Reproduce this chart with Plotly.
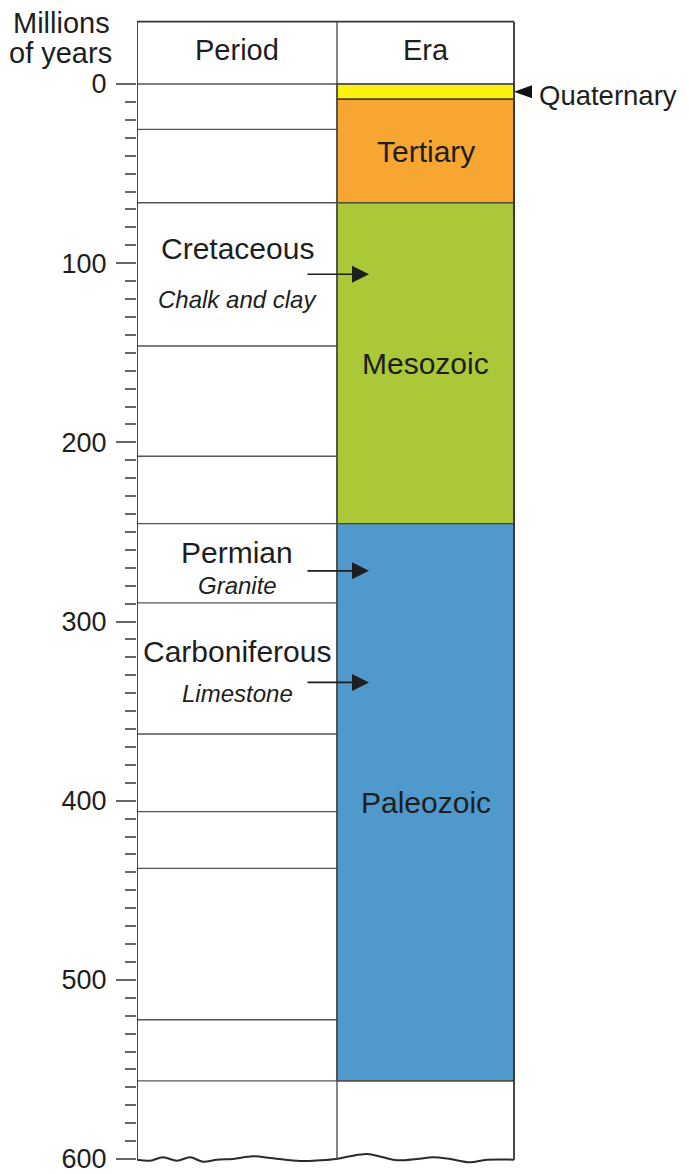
import plotly.graph_objects as go

# ---------------- data ----------------
tick_values = [0, 100, 200, 300, 400, 500, 600]
tick_labels = ["0", "100", "200", "300", "400", "500", "600"]
minor_ticks = [v for v in range(10, 600, 10) if v % 100 != 0]

# period boundary lines (millions of years)
period_bounds = [25.3, 66.3, 146.2, 207.8, 245.4, 289.6, 362.8, 406.1, 437.8, 522.3, 556.4]

era_names = ["", "Tertiary", "Mesozoic", "Paleozoic"]
era_start = [0, 8.5, 66.3, 245.4]
era_end = [8.5, 66.3, 245.4, 556.4]
era_colors = ["#FFF10F", "#F7A632", "#AAC837", "#5099CC"]

rock_periods = ["Cretaceous", "Permian", "Carboniferous"]
rock_types = ["Chalk and clay", "Granite", "Limestone"]
rock_ages = [106.2, 271.7, 334.0]

# ---------------- layout constants ----------------
BODY = 8                   # default page body margin
PX = 1075 / 600.0          # pixels per million years
Y0 = 84                    # page pixel row of 0 Ma
def py(p):                 # page pixel row -> axis value
    return (p - Y0) / PX

FONT = "Liberation Sans, Arial, Helvetica, sans-serif"
TXT = "#1e1e1e"
LEFT = 137                 # page pixel column of left border
COL_L, COL_M, COL_R = 0, 200, 377
ERA_C = (COL_M + COL_R) / 2
PER_C = (COL_L + COL_M) / 2
TOP = py(21.7)
FIG_W, FIG_H = 689 - BODY, 1174 - BODY
PLOT_W = FIG_W - (LEFT - BODY)

def px(p):                 # page pixel column -> x axis value
    return p - LEFT

name_rows = [248.8, 552.5, 651.7]
type_rows = [299.5, 585.0, 693.8]

# decorative wavy bottom edge (x in axis px, offset in px)
wave_x = [0, 13, 26, 40, 53, 66, 80, 96, 116, 136, 163, 183, 199, 213, 230, 246, 260, 280, 296, 313, 333, 350, 377]
wave_d = [0.7, 1.7, -1.7, 1.7, -1.7, 2.7, 0.7, 0, -2.7, -0.7, 2, 1.3, 0, -2.7, -5, -1.7, 1.3, 0, -1.7, 0, 3.3, 0.7, 0.7]

fig = go.Figure()

# era blocks
fig.add_trace(go.Bar(
    x=[ERA_C] * len(era_start),
    base=era_start,
    y=[e - s for s, e in zip(era_start, era_end)],
    width=COL_R - COL_M,
    marker=dict(color=era_colors, line=dict(color="#404040", width=1.3)),
    hoverinfo="skip", showlegend=False,
))

# wavy bottom edge
fig.add_trace(go.Scatter(
    x=wave_x, y=[600 + d / PX for d in wave_d], mode="lines",
    line=dict(color="#2a2a2a", width=2, shape="spline"),
    hoverinfo="skip", showlegend=False, cliponaxis=False,
))

shapes = []
# Quaternary pointer (decorative triangle)
tip_x, base_x = px(514), px(532)
ty, th = py(91.7), 6.5 / PX
shapes.append(dict(type="path", xref="x", yref="y",
                   path=f"M {tip_x},{ty} L {base_x},{ty - th} L {base_x},{ty + th} Z",
                   fillcolor="#111111", line=dict(width=0), layer="above"))
# period boundary lines
for b in period_bounds:
    x1 = COL_R if b == period_bounds[-1] else COL_M
    shapes.append(dict(type="line", xref="x", yref="y", x0=COL_L, x1=x1, y0=b, y1=b,
                       line=dict(color="#555555", width=1.4), layer="above"))
# zero / header bottom line
shapes.append(dict(type="line", xref="x", yref="y", x0=COL_L, x1=COL_R, y0=0, y1=0,
                   line=dict(color="#555555", width=1.4), layer="above"))
# header top
shapes.append(dict(type="line", xref="x", yref="y", x0=COL_L, x1=COL_R, y0=TOP, y1=TOP,
                   line=dict(color="#333333", width=1.8), layer="above"))
# vertical lines
for xv, w, c in [(COL_L, 1.8, "#333333"), (COL_M, 1.3, "#444444"), (COL_R, 1.8, "#333333")]:
    shapes.append(dict(type="line", xref="x", yref="y", x0=xv, x1=xv, y0=TOP, y1=600.4,
                       line=dict(color=c, width=w), layer="above"))

ann = []
def text(x, y, s, size=29, italic=False, xanchor="center", xref="x"):
    ann.append(dict(x=x, y=y, xref=xref, yref="y", text=s, showarrow=False,
                    xanchor=xanchor, yanchor="middle",
                    font=dict(family=FONT, size=size, color=TXT,
                              style="italic" if italic else "normal")))

text(px(61) / PLOT_W, py(22.5), "Millions", size=29, xref="paper")
text(px(60) / PLOT_W, py(53), "of years", size=29, xref="paper")
text(PER_C, py(50), "Period", size=29)
text(ERA_C, py(50), "Era", size=29)
text(px(537), py(95), "Quaternary", size=27.5, xanchor="left")

for n, s, e in zip(era_names, era_start, era_end):
    if n:
        text(ERA_C, (s + e) / 2, n, size=30)

for name, rtype, age, nr, tr in zip(rock_periods, rock_types, rock_ages, name_rows, type_rows):
    text(PER_C, py(nr), name, size=30)
    text(PER_C, py(tr), rtype, size=24, italic=True)
    ann.append(dict(x=px(369), y=age, ax=px(306), ay=age, xref="x", yref="y", axref="x", ayref="y",
                    text="", showarrow=True, arrowhead=2, arrowsize=2.0,
                    arrowwidth=1.7, arrowcolor="#1e1e1e"))

fig.update_layout(
    width=FIG_W, height=FIG_H,
    margin=dict(l=LEFT - BODY, r=0, t=0, b=0, pad=0, autoexpand=False),
    paper_bgcolor="white", plot_bgcolor="white",
    shapes=shapes, annotations=ann,
    xaxis=dict(range=[0, PLOT_W], visible=False, fixedrange=True),
    yaxis=dict(
        range=[py(1174), py(BODY)],
        showgrid=False, zeroline=False, showline=False,
        tickmode="array", tickvals=tick_values, ticktext=tick_labels,
        ticks="outside", ticklen=20, tickwidth=1.8, tickcolor="#666666",
        ticklabelstandoff=4, ticklabeloverflow="allow",
        tickfont=dict(family=FONT, size=27, color=TXT),
        minor=dict(tickmode="array", tickvals=minor_ticks, ticks="outside",
                   ticklen=11, tickwidth=1.8, tickcolor="#666666"),
        fixedrange=True,
    ),
)

fig.write_html(
    "out.html",
    config={"displayModeBar": False},
    post_script="document.documentElement.style.overflow='hidden';document.body.style.overflow='hidden';",
)
